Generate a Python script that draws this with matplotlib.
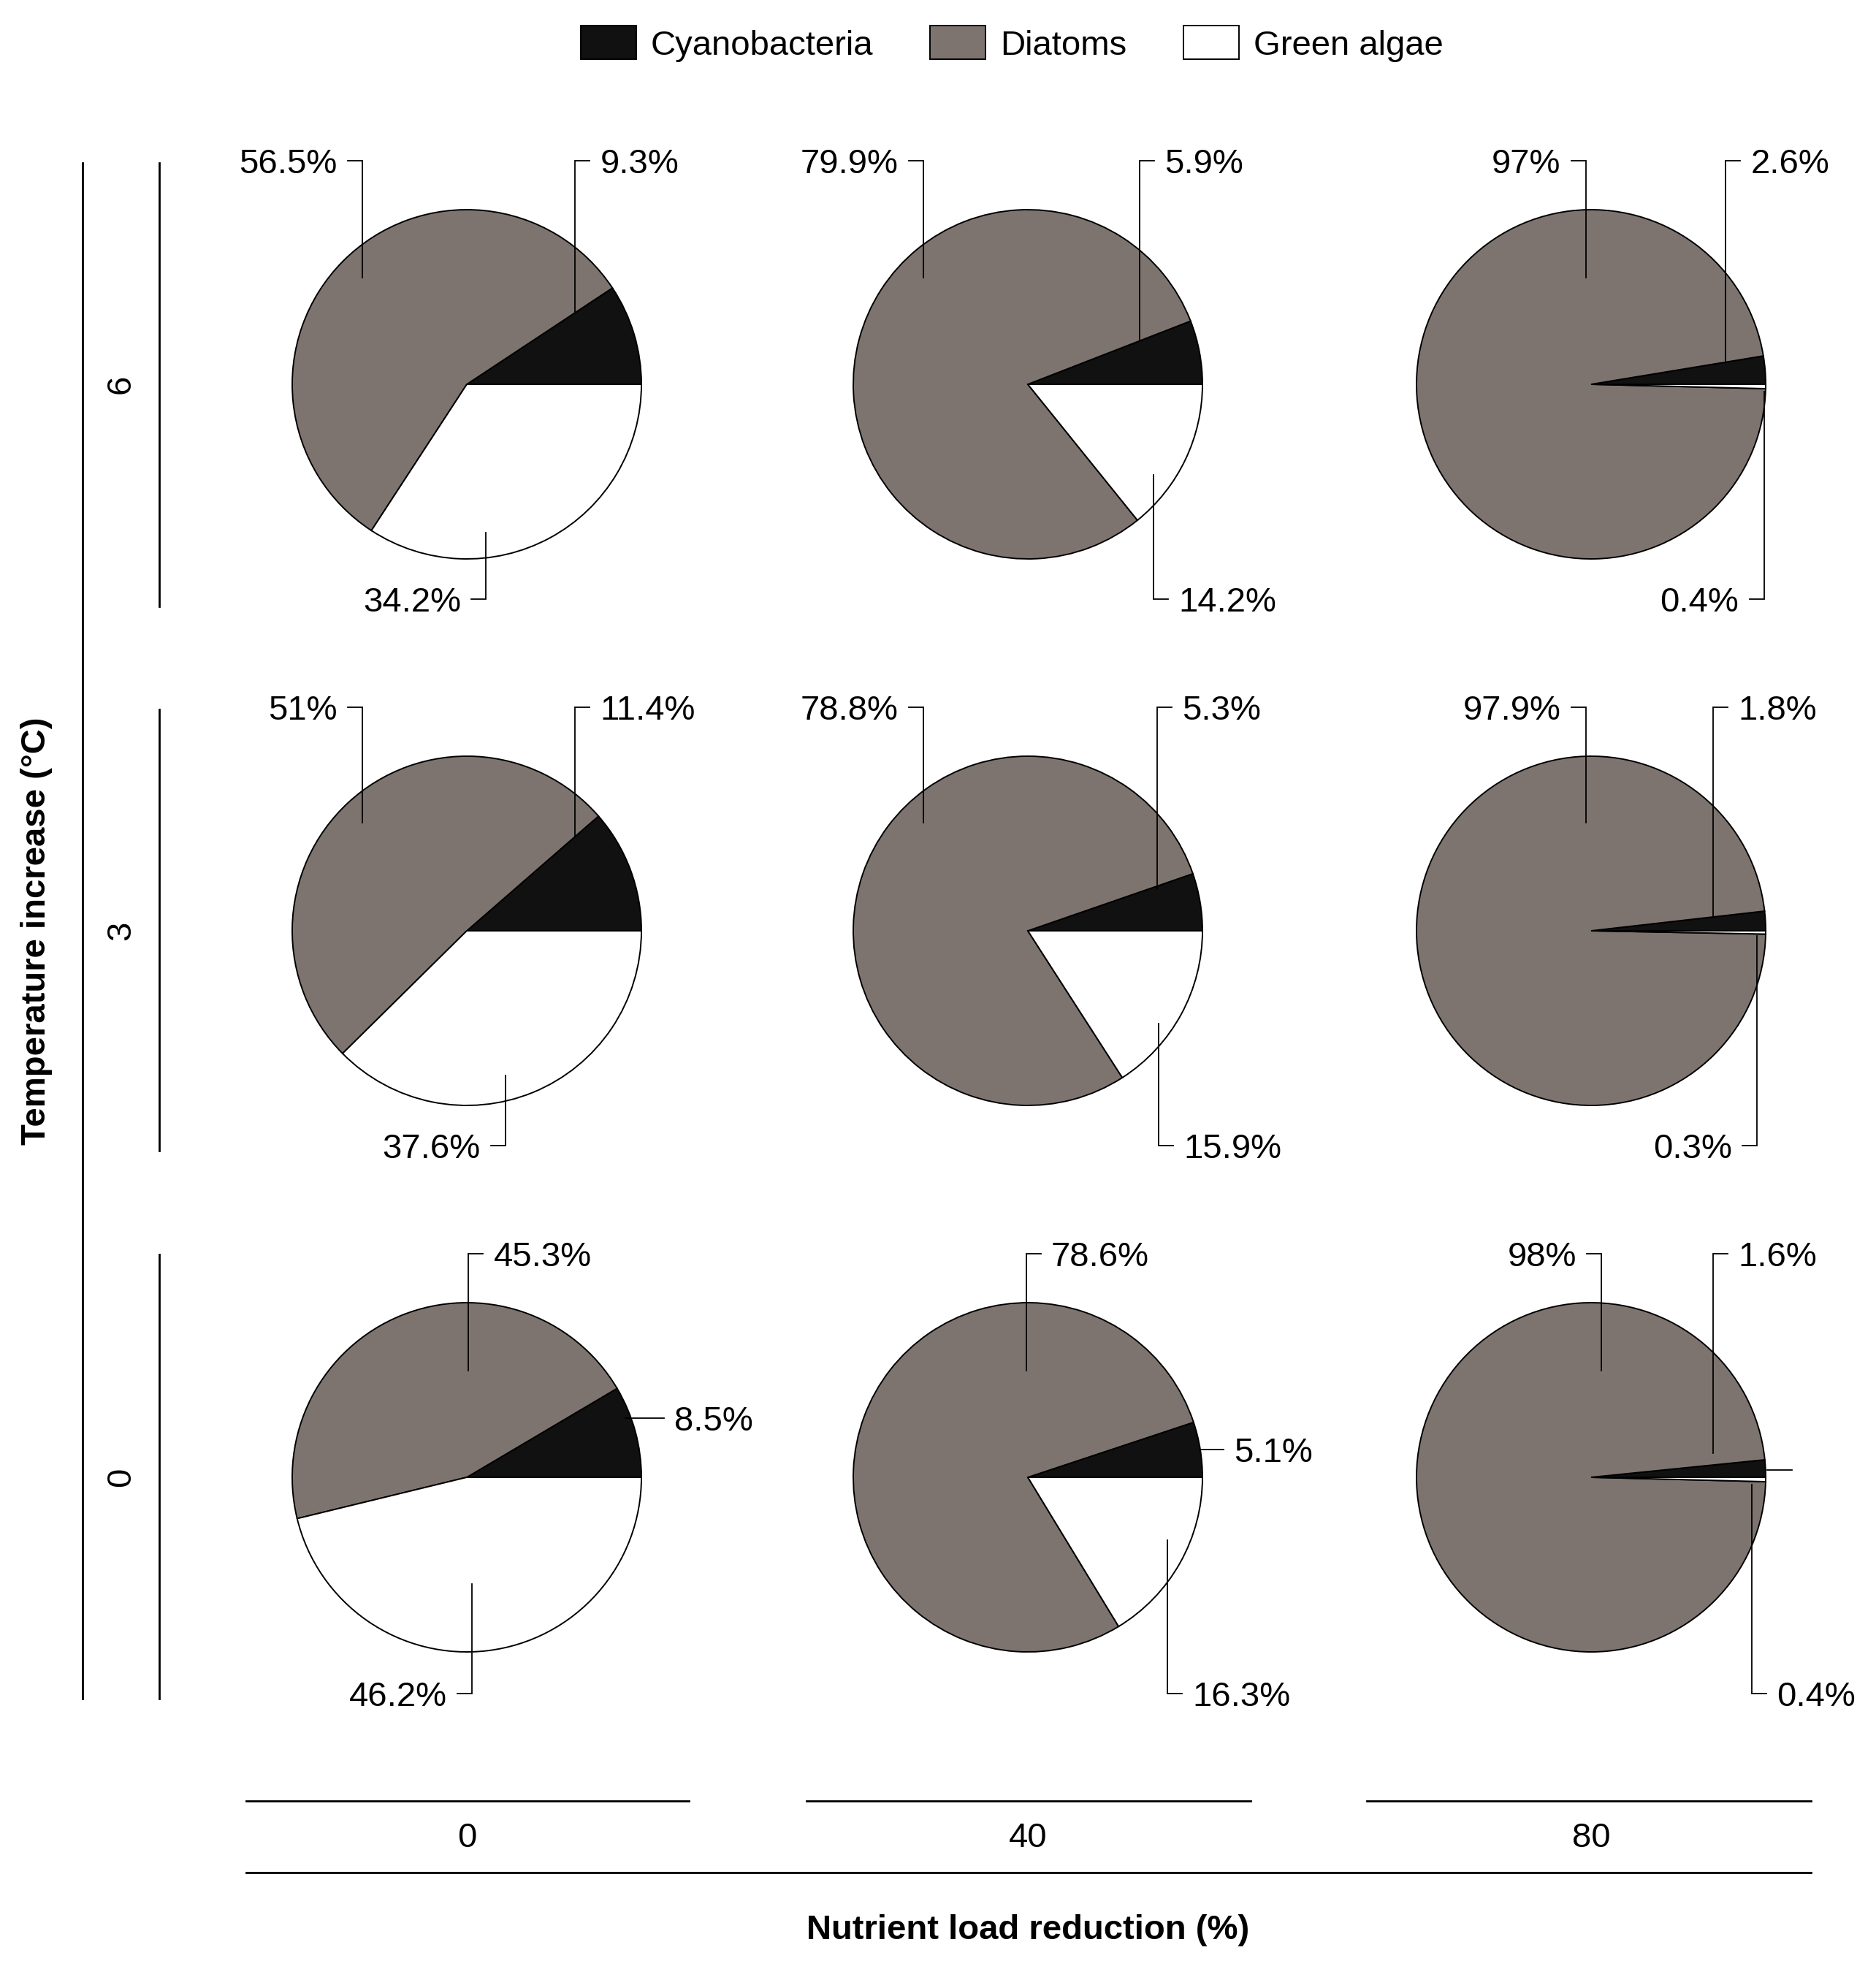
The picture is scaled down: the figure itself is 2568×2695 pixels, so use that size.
import matplotlib
matplotlib.use('Agg')
import matplotlib.pyplot as plt

# DATA

TEMPS = ['6', '3', '0']
REDUCTIONS = ['0', '40', '80']
GROUPS = ['Cyanobacteria', 'Diatoms', 'Green algae']

# rows = temperature increase (6, 3, 0), cols = nutrient load reduction (0, 40, 80)
CYANO = [[9.3, 5.9, 2.6],
         [11.4, 5.3, 1.8],
         [8.5, 5.1, 1.6]]
DIATOMS = [[56.5, 79.9, 97],
           [51, 78.8, 97.9],
           [45.3, 78.6, 98]]
GREEN = [[34.2, 14.2, 0.4],
         [37.6, 15.9, 0.3],
         [46.2, 16.3, 0.4]]

# LAYOUT (pixels, y measured upwards)

W, H = 2568, 2695
DPI = 100
FONT = 'Liberation Sans'
FS = 34
COLOURS = ['#111111', '#7d7470', '#ffffff']

COL_X = [639, 1407, 2178]
ROW_Y = [H - 526, H - 1274, H - 2022]
RADIUS = 239
TICK = 0.084
GAP = 0.06
CAP = 17

# leader lines in radius units: ('v', x, y_start, y_label, side) or ('h', x0, x1, y, side)
LEADERS = [
    [[('v', 0.62, 0.41, 1.28, 'r'), ('v', -0.60, 0.61, 1.28, 'l'), ('v', 0.11, -0.85, -1.23, 'l')],
     [('v', 0.64, 0.25, 1.28, 'r'), ('v', -0.60, 0.61, 1.28, 'l'), ('v', 0.72, -0.52, -1.23, 'r')],
     [('v', 0.77, 0.12, 1.28, 'r'), ('v', -0.03, 0.61, 1.28, 'l'), ('v', 0.99, -0.04, -1.23, 'l')]],
    [[('v', 0.62, 0.54, 1.28, 'r'), ('v', -0.60, 0.62, 1.28, 'l'), ('v', 0.22, -0.83, -1.23, 'l')],
     [('v', 0.74, 0.24, 1.28, 'r'), ('v', -0.60, 0.62, 1.28, 'l'), ('v', 0.75, -0.53, -1.23, 'r')],
     [('v', 0.70, 0.08, 1.28, 'r'), ('v', -0.03, 0.62, 1.28, 'l'), ('v', 0.95, -0.03, -1.23, 'l')]],
    [[('h', 0.91, 1.13, 0.34, 'r'), ('v', 0.01, 0.61, 1.28, 'r'), ('v', 0.03, -0.61, -1.24, 'l')],
     [('h', 0.99, 1.12, 0.16, 'r'), ('v', -0.01, 0.61, 1.28, 'r'), ('v', 0.80, -0.36, -1.24, 'r')],
     [('v', 0.70, 0.14, 1.28, 'r'), ('v', 0.06, 0.61, 1.28, 'l'), ('v', 0.92, -0.04, -1.24, 'r')]],
]

plt.rcParams['font.family'] = [FONT, 'DejaVu Sans']

fig = plt.figure(figsize=(W / DPI, H / DPI), dpi=DPI)
ax = fig.add_axes([0, 0, 1, 1])

LW_PIE = 1.4
LW_LEAD = 1.3
LW_AXIS = 2.0

wedges_first = None
for i in range(3):
    for j in range(3):
        vals = [CYANO[i][j], DIATOMS[i][j], GREEN[i][j]]
        cx, cy = COL_X[j], ROW_Y[i]
        wedges, _ = ax.pie(vals, colors=COLOURS, startangle=0, counterclock=True,
                           radius=RADIUS, center=(cx, cy), frame=True,
                           wedgeprops=dict(edgecolor='black', linewidth=LW_PIE))
        if wedges_first is None:
            wedges_first = wedges

        for v, lead in zip(vals, LEADERS[i][j]):
            label = f'{v:g}%'
            kind, a, b, c, side = lead
            if kind == 'v':
                x = cx + a * RADIUS
                y0 = cy + b * RADIUS
                y1 = cy + c * RADIUS
                sgn = 1 if side == 'r' else -1
                x2 = x + sgn * TICK * RADIUS
                ax.plot([x, x, x2], [y0, y1, y1], color='black', lw=LW_LEAD,
                        solid_joinstyle='miter')
                tx = x2 + sgn * GAP * RADIUS
                ty = y1
            else:
                x0 = cx + a * RADIUS
                x2 = cx + b * RADIUS
                ty = cy + c * RADIUS
                sgn = 1
                ax.plot([x0, x2], [ty, ty], color='black', lw=LW_LEAD)
                tx = x2 + GAP * RADIUS
            ax.text(tx, ty - CAP, label, fontsize=FS, ha='left' if sgn > 0 else 'right',
                    va='baseline')

# stray leader stub on the last pie
cx, cy = COL_X[2], ROW_Y[2]
ax.plot([cx + 1.01 * RADIUS, cx + 1.15 * RADIUS], [cy + 0.04 * RADIUS] * 2,
        color='black', lw=LW_LEAD)

# row axis
ax.plot([113, 113], [H - 223, H - 2325], color='black', lw=LW_AXIS)
row_spans = [(223, 830), (971, 1575), (1717, 2325)]
for (t, b), y, lab in zip(row_spans, ROW_Y, TEMPS):
    ax.plot([218, 218], [H - t, H - b], color='black', lw=LW_AXIS)
    ax.text(171 + CAP, y, lab, fontsize=FS, rotation=90, ha='right', va='center')
ax.text(50, H - 1274, 'Temperature increase (°C)', fontsize=FS, fontweight='bold',
        rotation=90, ha='center', va='center')

# column axis
col_spans = [(337, 943), (1104, 1712), (1871, 2479)]
for (l, r), x, lab in zip(col_spans, COL_X, REDUCTIONS):
    ax.plot([l, r], [H - 2465, H - 2465], color='black', lw=LW_AXIS)
    ax.text(x, H - 2528, lab, fontsize=FS, ha='center', va='baseline')
ax.plot([337, 2479], [H - 2563, H - 2563], color='black', lw=LW_AXIS)
ax.text(1407, H - 2654, 'Nutrient load reduction (%)', fontsize=FS, fontweight='bold',
        ha='center', va='baseline')

# legend
ax.legend(wedges_first, GROUPS, loc='center', bbox_to_anchor=(1385 / W, 1 - 60 / H),
          ncol=3, frameon=False, fontsize=FS, handlelength=1.61, handleheight=1.12,
          handletextpad=0.42, columnspacing=1.65, borderaxespad=0, borderpad=0)

ax.set_xlim(0, W)
ax.set_ylim(0, H)
ax.set_aspect('equal')
ax.axis('off')

plt.savefig('out.png', dpi=DPI, facecolor='white')
